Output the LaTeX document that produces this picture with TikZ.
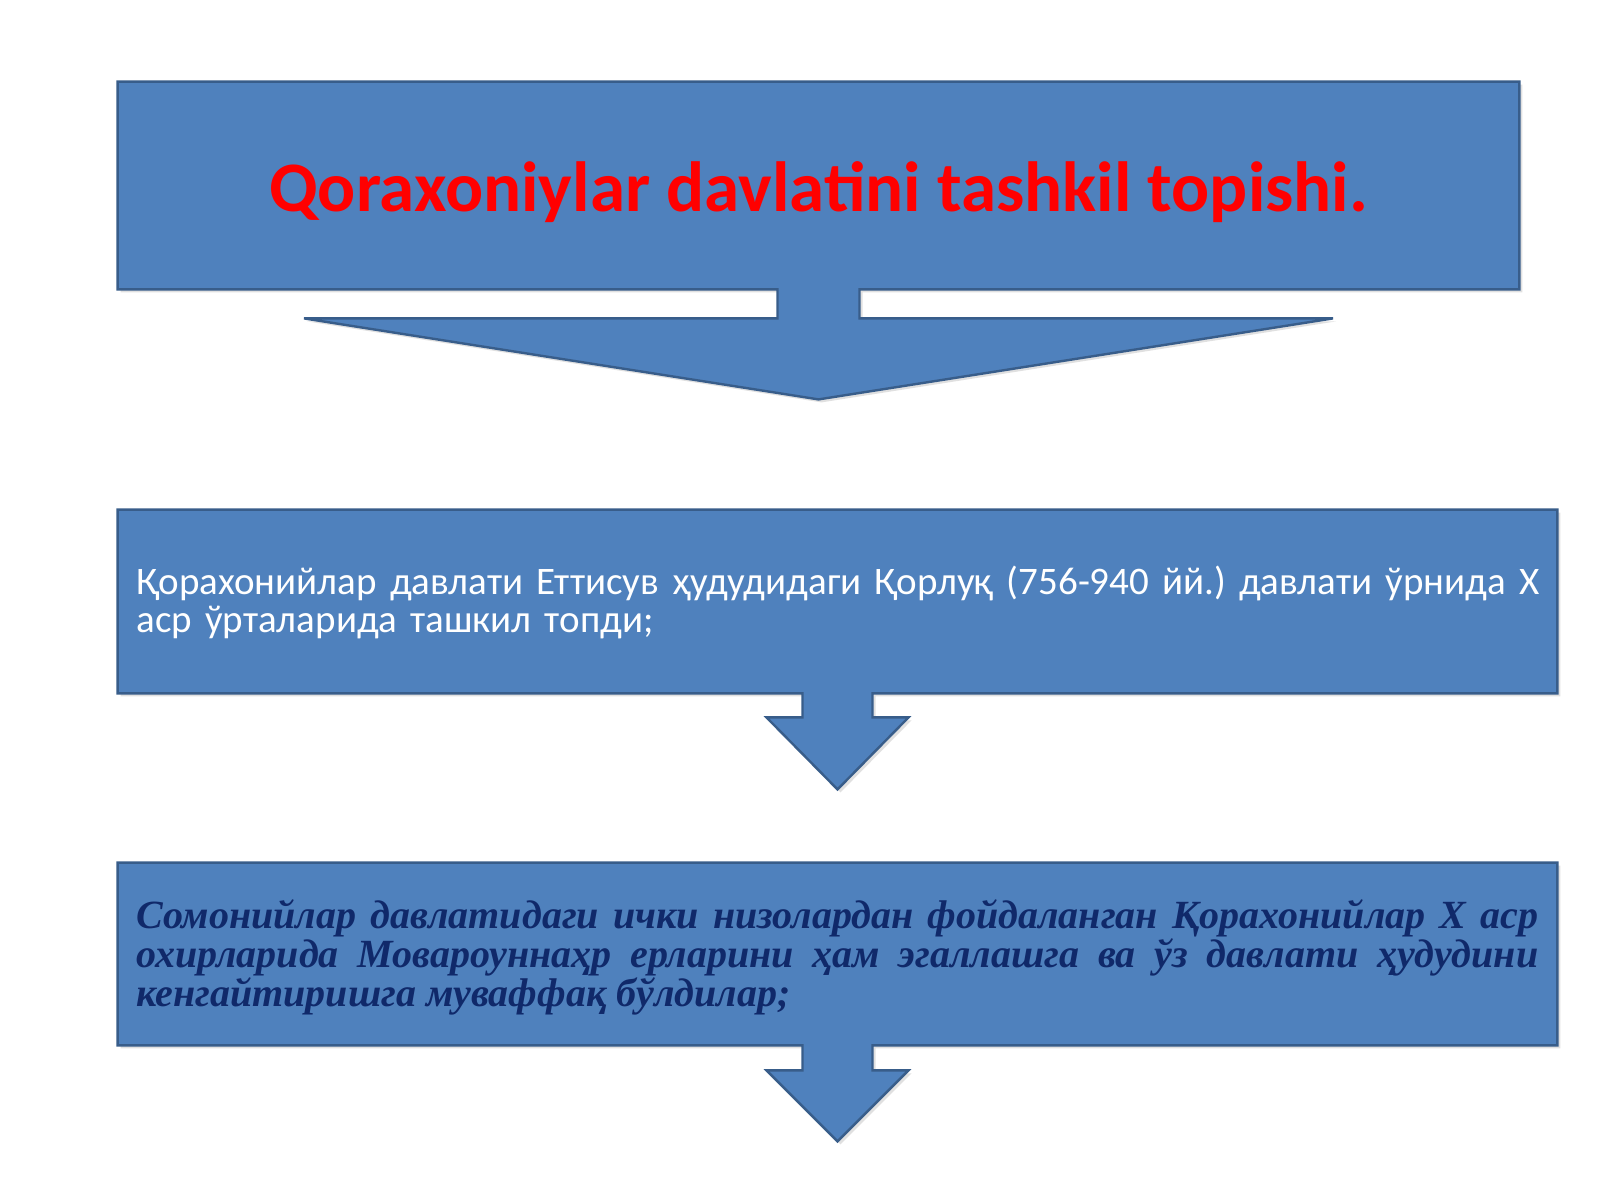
\documentclass[tikz,border=0pt]{standalone}
\usepackage{fontspec}
\setmainfont{Carlito}
\newfontfamily\seriffont{Liberation Serif}
\usetikzlibrary{calc,shadows}
\definecolor{boxblue}{HTML}{4F81BD}
\definecolor{boxline}{HTML}{385D8A}
\definecolor{navytext}{HTML}{10296A}
\definecolor{titlered}{HTML}{FF0000}
\frenchspacing
\begin{document}
\begin{tikzpicture}[x=0.5pt,y=-0.5pt,
  callout/.style={fill=boxblue, draw=boxline, line width=1.2pt, line join=miter,
    drop shadow={opacity=0.2, shadow xshift=1.5pt, shadow yshift=-1.5pt, fill=black!60}},
  boxarea/.style={draw=none, fill=none, inner sep=0pt, minimum width=#1},
  titletext/.style={anchor=base, text=titlered, inner sep=0pt,
    font=\fontsize{35.5}{40}\selectfont\bfseries},
  plaintext/.style={anchor=base west, text=white, inner sep=0pt, text width=740pt,
    align=left, font=\fontsize{19.5}{19}\selectfont\frenchspacing},
  serifbox/.style={anchor=base west, text=navytext, inner sep=0pt, text width=701pt,
    align=justify, font=\seriffont\bfseries\itshape\fontsize{20}{18.5}\selectfont\frenchspacing}
]
\useasboundingbox (0,0) rectangle (1600,1200);
\fill[white] (0,0) rectangle (1600,1200);

% invisible box geometry
\node[boxarea=700.5pt, minimum height=103.5pt] (b1) at (818.5,185.5) {};
\node[boxarea=719.5pt, minimum height=91.5pt] (b2) at (837.5,601.5) {};
\node[boxarea=719.5pt, minimum height=91pt] (b3) at (837.5,954) {};

% callout shapes (box + down arrow)
\path[callout] (b1.north west) -- (b1.north east) -- (b1.south east)
  -- ($(b1.south)+(41,0)$) -- ($(b1.south)+(41,29)$) -- ($(b1.south)+(514.5,29)$)
  -- ($(b1.south)+(0,110)$) -- ($(b1.south)+(-514.5,29)$) -- ($(b1.south)+(-41,29)$)
  -- ($(b1.south)+(-41,0)$) -- (b1.south west) -- cycle;
\path[callout] (b2.north west) -- (b2.north east) -- (b2.south east)
  -- ($(b2.south)+(35,0)$) -- ($(b2.south)+(35,24)$) -- ($(b2.south)+(71,24)$)
  -- ($(b2.south)+(0,96)$) -- ($(b2.south)+(-71,24)$) -- ($(b2.south)+(-35,24)$)
  -- ($(b2.south)+(-35,0)$) -- (b2.south west) -- cycle;
\path[callout] (b3.north west) -- (b3.north east) -- (b3.south east)
  -- ($(b3.south)+(35,0)$) -- ($(b3.south)+(35,25)$) -- ($(b3.south)+(71,25)$)
  -- ($(b3.south)+(0,96)$) -- ($(b3.south)+(-71,25)$) -- ($(b3.south)+(-35,25)$)
  -- ($(b3.south)+(-35,0)$) -- (b3.south west) -- cycle;

% texts
\node[titletext] (t1) at (818.5,211.5) {Qoraxoniylar davlatini tashkil topishi.};
\node[plaintext] (t2) at (136,594) {Қорахонийлар давлати Еттисув ҳудудидаги Қорлуқ (756-940 йй.) давлати ўрнида X\\аср ўрталарида ташкил топди;};
\node[serifbox] (t3) at (136,928) {\hyphenpenalty=10000\relax Сомонийлар давлатидаги ички низолардан фойдаланган Қорахонийлар X аср\linebreak охирларида Мовароуннаҳр ерларини ҳам эгаллашга ва ўз давлати ҳудудини\linebreak кенгайтиришга муваффақ бўлдилар;};
\end{tikzpicture}
\end{document}
